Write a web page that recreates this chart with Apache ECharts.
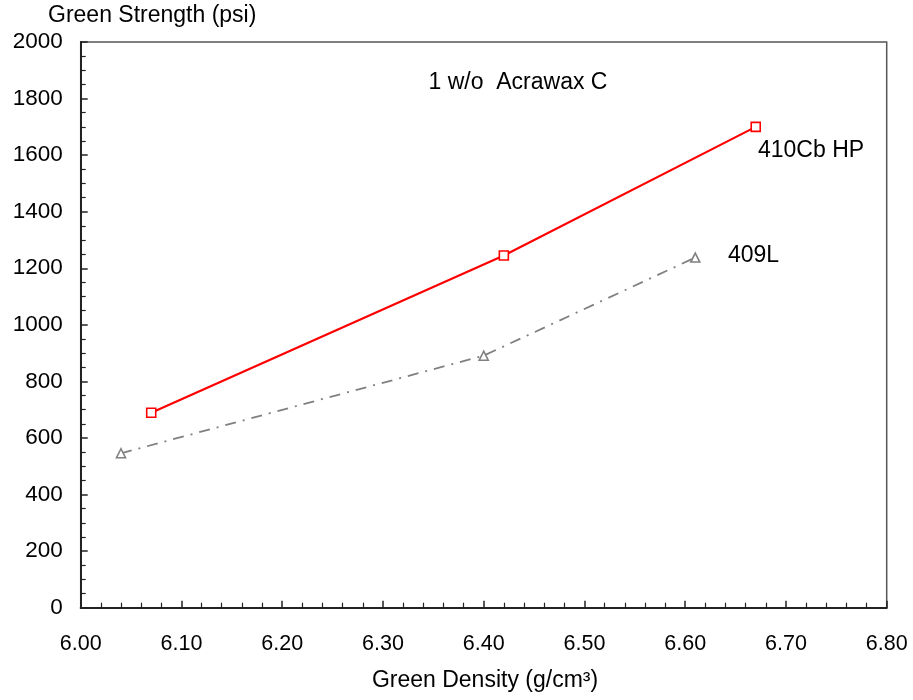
<!DOCTYPE html>
<html>
<head>
<meta charset="utf-8">
<script src="https://cdn.jsdelivr.net/npm/echarts@6/dist/echarts.min.js"></script>
<style>html,body{margin:0;padding:0;background:#fff}#c{width:913px;height:700px}</style>
</head>
<body>
<div id="c"></div>
<script>
const FONT = "'Liberation Sans', Arial, sans-serif";
const xTicks = [6.0, 6.1, 6.2, 6.3, 6.4, 6.5, 6.6, 6.7, 6.8];
const yTicks = [0, 200, 400, 600, 800, 1000, 1200, 1400, 1600, 1800, 2000];
const seriesNames = ['410Cb HP', '409L'];
const density410 = [6.07, 6.42, 6.67];
const strength410 = [689, 1245, 1700];
const density409 = [6.04, 6.40, 6.61];
const strength409 = [546, 891, 1238];
const noteText = '1 w/o  Acrawax C';

const chart = echarts.init(document.getElementById('c'), null, {renderer: 'canvas'});
const grid = {left: 80.7, right: 26.3, top: 42, bottom: 92.3};
const toPairs = (xs, ys) => xs.map((x, i) => [x, ys[i]]);

chart.setOption({
  animation: false,
  backgroundColor: '#fff',
  grid: Object.assign({show: true, borderColor: '#555', borderWidth: 1.5, backgroundColor: '#fff'}, grid),
  xAxis: {
    type: 'value',
    min: xTicks[0], max: xTicks[xTicks.length - 1], interval: 0.1,
    axisLine: {show: true, onZero: false, lineStyle: {color: '#222', width: 2}},
    axisTick: {show: true, inside: true, length: 7, lineStyle: {color: '#222', width: 1.5}},
    minorTick: {show: true, splitNumber: 5, length: 5, lineStyle: {color: '#222', width: 1.2}},
    splitLine: {show: false},
    axisLabel: {margin: 25, fontSize: 21.5, color: '#000', fontFamily: FONT,
      formatter: v => v.toFixed(2)}
  },
  yAxis: {
    type: 'value',
    min: yTicks[0], max: yTicks[yTicks.length - 1], interval: 200,
    axisLine: {show: true, onZero: false, lineStyle: {color: '#222', width: 2}},
    axisTick: {show: true, inside: true, length: 7, lineStyle: {color: '#222', width: 1.5}},
    minorTick: {show: true, splitNumber: 4, length: 5, lineStyle: {color: '#222', width: 1.2}},
    splitLine: {show: false},
    axisLabel: {margin: 18, fontSize: 22.5, color: '#000', fontFamily: FONT,
      formatter: v => String(v)}
  },
  series: [
    {
      name: seriesNames[0], type: 'line',
      data: toPairs(density410, strength410),
      symbol: 'rect', symbolSize: 9,
      itemStyle: {color: '#fff', borderColor: '#ff0000', borderWidth: 1.6},
      lineStyle: {color: '#ff0000', width: 2.2},
      z: 3
    },
    {
      name: seriesNames[1], type: 'line',
      data: toPairs(density409, strength409),
      symbol: 'triangle', symbolSize: 9,
      itemStyle: {color: '#fff', borderColor: '#808080', borderWidth: 1.6},
      lineStyle: {color: '#808080', width: 1.8, type: [11, 7, 2, 7]},
      z: 2
    }
  ],
  graphic: [
    {type: 'text', left: 48, top: 4,
      style: {text: 'Green Strength (psi)', fontSize: 23, fontFamily: FONT, fill: '#000'}},
    {type: 'text', x: 485, y: 681,
      style: {text: 'Green Density (g/cm³)', fontSize: 23, fontFamily: FONT, fill: '#000', textAlign: 'center', textVerticalAlign: 'middle'}},
    {type: 'text', x: 518, y: 83,
      style: {text: noteText, fontSize: 23, fontFamily: FONT, fill: '#000', textAlign: 'center', textVerticalAlign: 'middle'}},
    {type: 'text', x: 758, y: 151,
      style: {text: seriesNames[0], fontSize: 23, fontFamily: FONT, fill: '#000', textAlign: 'left', textVerticalAlign: 'middle'}},
    {type: 'text', x: 728, y: 256,
      style: {text: seriesNames[1], fontSize: 23, fontFamily: FONT, fill: '#000', textAlign: 'left', textVerticalAlign: 'middle'}}
  ]
});
</script>
</body>
</html>
